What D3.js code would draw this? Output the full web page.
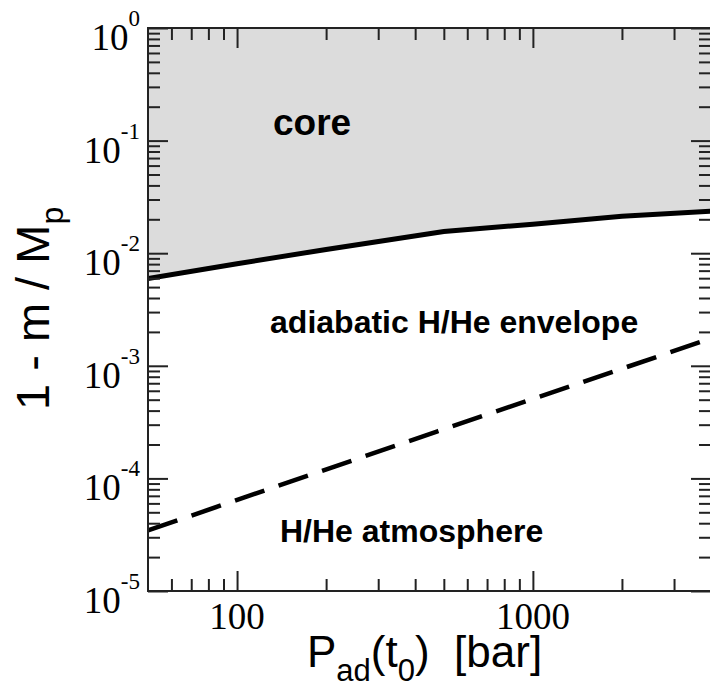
<!DOCTYPE html>
<html><head><meta charset="utf-8">
<script src="https://cdn.jsdelivr.net/npm/d3@7"></script>
<style>body{margin:0;background:#fff}svg{display:block}</style>
</head><body>
<script>
// ---- data ----
const pressure = [50, 100, 200, 500, 1000, 2000, 4000];          // bar
const coreBoundary = [5.96e-3, 8.05e-3, 0.0108, 0.0156, 0.0181, 0.0213, 0.0236];
const atmPressure = [50, 476, 4000];
const atmBoundary = [3.45e-5, 2.62e-4, 1.75e-3];
const xMajorTicks = [100, 1000];
const xTickLabels = ["100", "1000"];
const xMinorTicks = [60, 70, 80, 90, 200, 300, 400, 500, 600, 700, 800, 900, 2000, 3000];
const yExponents = [0, -1, -2, -3, -4, -5];
const regionLabels = ["core", "adiabatic H/He envelope", "H/He atmosphere"];

// ---- layout ----
const W = 710, H = 689, L = 148, R = 711, T = 28, B = 591;
const svg = d3.select("body").append("svg").attr("width", W).attr("height", H);
const x = d3.scaleLog().domain([50, 4000]).range([L, R]);
const y = d3.scaleLog().domain([1e-5, 1]).range([B, T]);

svg.append("clipPath").attr("id", "clip").append("rect")
  .attr("x", L).attr("y", T).attr("width", R - L + 4).attr("height", B - T);
const plot = svg.append("g").attr("clip-path", "url(#clip)");

const pts = pressure.map((p, i) => [p, coreBoundary[i]]);
plot.append("path").datum(pts)
  .attr("d", d3.area().x(d => x(d[0])).y0(y(1)).y1(d => y(d[1])))
  .attr("fill", "#dcdcdc");
plot.append("path").datum(pts)
  .attr("d", d3.line().x(d => x(d[0])).y(d => y(d[1])))
  .attr("fill", "none").attr("stroke", "#000").attr("stroke-width", 5);
plot.append("path").datum(atmPressure.map((p, i) => [p, atmBoundary[i]]))
  .attr("d", d3.line().x(d => x(d[0])).y(d => y(d[1])))
  .attr("fill", "none").attr("stroke", "#000").attr("stroke-width", 4.5)
  .attr("stroke-dasharray", "31,15");

// ---- ticks (inward, all four sides) ----
const yMinor = [];
for (let e = -5; e < 0; e++) for (let k = 2; k <= 9; k++) yMinor.push(k * Math.pow(10, e));
const yMajor = yExponents.map(e => Math.pow(10, e));

function styleAxis(g) {
  g.select(".domain").remove();
  g.selectAll(".tick line").attr("stroke", "#222").attr("stroke-width", 2);
  g.selectAll(".tick text").remove();
}
svg.append("g").attr("transform", `translate(0,${B})`)
  .call(d3.axisBottom(x).tickValues(xMinorTicks).tickSize(-12)).call(styleAxis);
svg.append("g").attr("transform", `translate(0,${B})`)
  .call(d3.axisBottom(x).tickValues(xMajorTicks).tickSize(-20)).call(styleAxis);
svg.append("g").attr("transform", `translate(0,${T})`)
  .call(d3.axisTop(x).tickValues(xMinorTicks).tickSize(-12)).call(styleAxis);
svg.append("g").attr("transform", `translate(0,${T})`)
  .call(d3.axisTop(x).tickValues(xMajorTicks).tickSize(-20)).call(styleAxis);
svg.append("g").attr("transform", `translate(${L},0)`)
  .call(d3.axisLeft(y).tickValues(yMinor).tickSize(-12)).call(styleAxis);
svg.append("g").attr("transform", `translate(${L},0)`)
  .call(d3.axisLeft(y).tickValues(yMajor).tickSize(-20)).call(styleAxis);
svg.append("g").attr("transform", `translate(${R},0)`)
  .call(d3.axisRight(y).tickValues(yMinor).tickSize(-12)).call(styleAxis);
svg.append("g").attr("transform", `translate(${R},0)`)
  .call(d3.axisRight(y).tickValues(yMajor).tickSize(-20)).call(styleAxis);

// frame (right edge lies just outside the window, as in the reference)
svg.append("rect").attr("x", L).attr("y", T).attr("width", R - L + 3).attr("height", B - T)
  .attr("fill", "none").attr("stroke", "#222").attr("stroke-width", 2);

// ---- tick labels ----
const serif = "'Liberation Serif','Times New Roman',serif";
svg.append("g").selectAll("text").data(xMajorTicks).join("text")
  .attr("x", d => x(d)).attr("y", B + 38)
  .attr("text-anchor", "middle").attr("font-family", serif).attr("font-size", 37)
  .text((d, i) => xTickLabels[i]);

const yl = svg.append("g").selectAll("text").data(yExponents).join("text")
  .attr("x", L - 8).attr("y", e => y(Math.pow(10, e)) + 22)
  .attr("text-anchor", "end").attr("font-family", serif).attr("font-size", 37);
yl.append("tspan").text("10");
yl.append("tspan").attr("dy", -24).attr("font-size", 23).text(e => String(e));

// ---- axis titles ----
const sans = "'Liberation Sans',Arial,Helvetica,sans-serif";
const xt = svg.append("text").attr("x", 307).attr("y", 667)
  .attr("font-family", sans).attr("font-size", 44);
xt.append("tspan").text("P");
xt.append("tspan").attr("dy", 14).attr("font-size", 31).text("ad");
xt.append("tspan").attr("dy", -14).text("(t");
xt.append("tspan").attr("dy", 14).attr("font-size", 31).text("0");
xt.append("tspan").attr("dy", -14).text(")\u00a0\u00a0[bar]");

const ytl = svg.append("text").attr("transform", "translate(49,410) rotate(-90)")
  .attr("font-family", sans).attr("font-size", 47);
ytl.append("tspan").text("1 - m / M");
ytl.append("tspan").attr("dy", 14).attr("font-size", 32).text("p");

// ---- region labels ----
const labelAt = [[132.3, 0.112, 37], [129.3, 1.955e-3, 32], [139.7, 2.72e-5, 32]];
svg.append("g").selectAll("text").data(regionLabels).join("text")
  .attr("x", (d, i) => x(labelAt[i][0])).attr("y", (d, i) => y(labelAt[i][1]))
  .attr("font-family", sans).attr("font-weight", "bold")
  .attr("font-size", (d, i) => labelAt[i][2])
  .text(d => d);
</script>
</body></html>
